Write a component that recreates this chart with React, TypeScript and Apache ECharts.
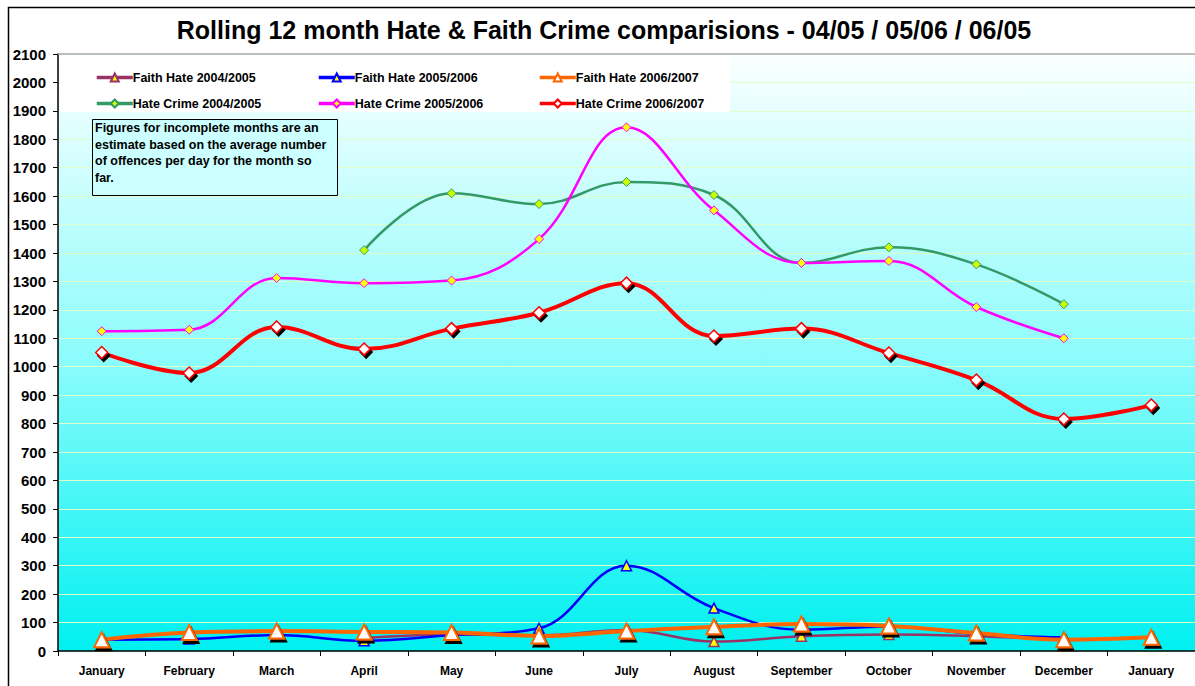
import React, { useEffect, useRef } from "react";
import * as echarts from "echarts";

const months = ["January", "February", "March", "April", "May", "June", "July", "August", "September", "October", "November", "December", "January"];
const yTicks = { min: 0, max: 2100, interval: 100 };

const faithHate0405 = [null, null, null, 45, 58, 55, 74, 33, 52, 58, 52, 40, null];
const faithHate0506 = [40, 42, 56, 36, 56, 80, 300, 151, 75, 86, 60, 48, null];
const faithHate0607 = [40, 65, 70, 67, 65, 53, 70, 85, 95, 88, 63, 40, 48];
const hateCrime0405 = [null, null, null, 1410, 1610, 1572, 1650, 1604, 1365, 1420, 1360, 1220, null];
const hateCrime0506 = [1125, 1130, 1312, 1294, 1303, 1449, 1842, 1550, 1365, 1372, 1210, 1100, null];
const hateCrime0607 = [1050, 978, 1140, 1062, 1134, 1190, 1294, 1108, 1134, 1048, 953, 816, 865];

const titleText = "Rolling 12 month Hate & Faith Crime comparisions - 04/05 / 05/06 / 06/05";
const noteText = "Figures for incomplete months are an\nestimate based on the average number\nof offences per day for the month so\nfar.";

const FONT = "'Liberation Sans', Arial, sans-serif";

export default function App() {
  const ref = useRef<HTMLDivElement>(null);
  useEffect(() => {
    document.body.style.margin = "0";
    const chart = echarts.init(ref.current!, undefined, { renderer: "svg" });
    const shadow = { shadowColor: "#000", shadowBlur: 0, shadowOffsetX: 2, shadowOffsetY: 3 };
    const mk = (name: string, data: any[], color: string, symbol: string, size: number, fill: string, width: number, z: number, withShadow: boolean, bw: number) => ({
      name,
      type: "line",
      data,
      smooth: 0.4,
      connectNulls: false,
      symbol,
      symbolSize: size,
      showAllSymbol: true,
      z,
      lineStyle: { color, width },
      itemStyle: { color: fill, borderColor: color, borderWidth: bw, ...(withShadow ? shadow : {}) },
      emphasis: { disabled: true },
    });
    const legendPos = [
      { name: "Faith Hate 2004/2005", left: 90, top: 66 },
      { name: "Faith Hate 2005/2006", left: 312, top: 66 },
      { name: "Faith Hate 2006/2007", left: 533, top: 66 },
      { name: "Hate Crime 2004/2005", left: 90, top: 92 },
      { name: "Hate Crime 2005/2006", left: 312, top: 92 },
      { name: "Hate Crime 2006/2007", left: 533, top: 92 },
    ];
    chart.setOption({
      animation: false,
      backgroundColor: "#fff",
      title: {
        text: titleText,
        left: 599,
        textAlign: "center",
        top: 12,
        textStyle: { fontFamily: FONT, fontSize: 25, fontWeight: "bold", color: "#000" },
      },
      legend: legendPos.map((l) => ({
        data: [l.name],
        left: l.left,
        top: l.top,
        itemWidth: 36,
        itemHeight: 10,
        itemGap: 4,
        selectedMode: false,
        lineStyle: { width: 3.5 },
        textStyle: { fontFamily: FONT, fontSize: 12.5, fontWeight: "bold", color: "#000", padding: [0, 0, 0, -5] },
        z: 10,
      })),
      grid: {
        left: 58,
        right: 0,
        top: 54,
        bottom: 35,
        show: true,
        borderWidth: 0,
        backgroundColor: new echarts.graphic.LinearGradient(0, 0, 0, 1, [
          { offset: 0, color: "#fbffff" },
          { offset: 0.5, color: "#8ffcfc" },
          { offset: 1, color: "#00f0f0" },
        ]),
      },
      xAxis: {
        type: "category",
        data: months,
        boundaryGap: true,
        axisLine: { lineStyle: { color: "#000", width: 1.5 } },
        axisTick: { show: true, length: 5, lineStyle: { color: "#000" } },
        axisLabel: { fontFamily: FONT, fontSize: 12, fontWeight: "bold", color: "#000", margin: 14, interval: 0 },
        splitLine: { show: false },
      },
      yAxis: {
        type: "value",
        min: yTicks.min,
        max: yTicks.max,
        interval: yTicks.interval,
        axisLine: { show: true, lineStyle: { color: "#000", width: 1.5 } },
        axisTick: { show: true, length: 5, lineStyle: { color: "#000" } },
        axisLabel: { fontFamily: FONT, fontSize: 15, fontWeight: "bold", color: "#000", margin: 12, formatter: (v: number) => String(v) },
        splitLine: { show: true, lineStyle: { color: "#ddffcc", width: 1 } },
      },
      graphic: [
        { type: "rect", shape: { x: 8.5, y: 7.5, width: 1190, height: 690 }, style: { fill: "none", stroke: "#000", lineWidth: 1.5 }, z: 0, silent: true },
        { type: "line", shape: { x1: 58, y1: 54, x2: 1195, y2: 54 }, style: { stroke: "#aaaaaa", lineWidth: 1.5 }, z: 1, silent: true },
        { type: "rect", shape: { x: 60, y: 57, width: 670, height: 55 }, style: { fill: "#fff" }, z: 1, silent: true },
        { type: "rect", shape: { x: 92.5, y: 119.5, width: 245, height: 76 }, style: { fill: "#ccffff", stroke: "#000", lineWidth: 1 }, z: 5, silent: true },
        { type: "text", x: 95, y: 120, style: { text: noteText, fontFamily: FONT, fontSize: 12.5, fontWeight: "bold", fill: "#000", lineHeight: 16.5 }, z: 6, silent: true },
      ],
      series: [
        mk("Faith Hate 2004/2005", faithHate0405, "#993366", "triangle", 10, "#ffff00", 2.5, 2, false, 1.5),
        mk("Faith Hate 2005/2006", faithHate0506, "#0000ff", "triangle", 10, "#ffff00", 2.5, 3, false, 1.5),
        mk("Faith Hate 2006/2007", faithHate0607, "#ff6600", "triangle", 15, "#ffffff", 4, 4, true, 2),
        mk("Hate Crime 2004/2005", hateCrime0405, "#339966", "diamond", 9, "#ccff00", 2.5, 5, false, 1),
        mk("Hate Crime 2005/2006", hateCrime0506, "#ff00ff", "diamond", 9, "#ffff00", 2.5, 6, false, 1),
        mk("Hate Crime 2006/2007", hateCrime0607, "#ff0000", "diamond", 12, "#ffffff", 4, 7, true, 1.5),
      ],
    });
    return () => chart.dispose();
  }, []);
  return <div ref={ref} style={{ width: 1195, height: 686 }} />;
}
